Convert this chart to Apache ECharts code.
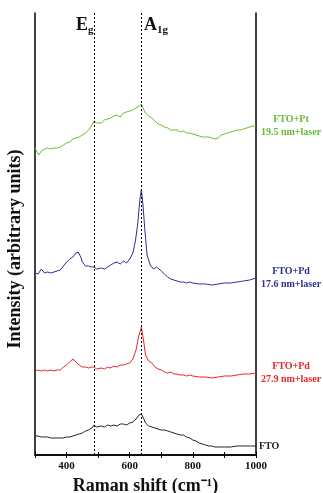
<!DOCTYPE html>
<html>
<head>
<meta charset="utf-8">
<script src="https://cdn.jsdelivr.net/npm/echarts@6/dist/echarts.min.js"></script>
<style>
html, body { margin: 0; padding: 0; background: #fff; }
#chart { width: 323px; height: 493px; }
</style>
</head>
<body>
<div id="chart"></div>
<script>
// Raman spectra, intensity in arbitrary units (offset stacked)
var fto = [[300,19],[310,19],[320,18],[330,18],[340,18],[350,17],[360,17],[370,17],[380,17],[390,17],[400,18],[410,18],[420,19],[430,20],[440,21],[450,22],[460,24],[470,25],[480,27],[487,30],[495,28],[500,27],[510,29],[520,28],[530,30],[540,29],[550,30],[560,29],[570,31],[580,31],[590,30],[600,32],[610,33],[620,36],[630,40],[637,41],[645,36],[650,32],[660,29],[670,28],[680,27],[690,26],[700,25],[710,25],[720,24],[730,23],[740,22],[750,21],[760,20],[770,20],[780,18],[790,17],[800,15],[810,14],[820,12],[830,11],[840,10],[850,9],[860,9],[870,8],[880,8],[890,8],[900,8],[920,8],[940,9],[960,9],[980,9],[1000,9]];

var pd279 = [[300,84],[310,85],[320,84],[330,85],[340,84],[350,85],[360,84],[370,85],[380,85],[390,88],[400,90],[410,93],[420,96],[430,93],[440,90],[450,88],[460,88],[470,87],[480,88],[487,88],[495,86],[500,85],[510,87],[520,86],[530,88],[540,87],[550,89],[560,88],[570,90],[580,90],[590,91],[600,92],[610,96],[620,105],[628,118],[637,128],[645,112],[650,100],[660,94],[670,92],[680,88],[690,86],[700,85],[710,83],[720,82],[730,83],[740,81],[750,81],[760,80],[770,80],[780,79],[790,80],[800,79],[820,78],[840,78],[860,77],[880,78],[900,79],[920,79],[940,80],[960,81],[980,81],[1000,82]];

var pd176 = [[300,182],[310,181],[320,186],[330,182],[340,183],[350,182],[360,183],[370,184],[380,185],[390,189],[400,193],[410,196],[420,198],[430,202],[437,203],[445,198],[450,193],[460,189],[470,189],[480,188],[487,188],[495,186],[500,185],[510,187],[520,186],[530,188],[540,190],[550,192],[560,193],[570,191],[580,194],[590,192],[600,196],[610,202],[618,214],[625,230],[632,255],[637,266],[642,250],[648,225],[655,200],[665,190],[675,186],[685,188],[690,190],[700,184],[710,181],[720,178],[730,176],[740,175],[750,174],[760,173],[770,173],[780,172],[790,173],[800,172],[820,171],[840,171],[860,170],[880,171],[900,172],[920,172],[940,173],[960,174],[980,175],[1000,177]];

var pt195 = [[300,307],[305,306],[312,300],[320,304],[330,306],[340,307],[350,306],[360,307],[370,307],[380,308],[390,310],[400,312],[410,313],[420,316],[430,317],[440,318],[450,320],[460,322],[470,325],[480,330],[487,334],[495,332],[500,333],[510,332],[520,335],[530,336],[540,337],[550,339],[560,340],[570,338],[580,342],[590,343],[600,344],[610,345],[620,347],[630,349],[637,351],[645,345],[650,342],[660,339],[670,337],[680,334],[690,331],[700,330],[710,328],[720,327],[730,325],[740,325],[750,325],[760,323],[770,324],[780,322],[790,322],[800,321],[810,320],[820,319],[830,318],[840,318],[850,318],[860,317],[870,316],[880,317],[890,320],[900,321],[910,322],[920,323],[930,324],[940,325],[950,325],[960,326],[970,327],[980,328],[990,329],[1000,329]];

var seriesNames = ['FTO', 'FTO+Pd\n27.9 nm+laser', 'FTO+Pd\n17.6 nm+laser', 'FTO+Pt\n19.5 nm+laser'];
var seriesColors = ['#222222', '#e8262a', '#2e2e96', '#66bb33'];
var peakLines = [487, 637];
var xTickLabels = [400, 600, 800, 1000];

var serif = 'Liberation Serif';
var chart = echarts.init(document.getElementById('chart'));

var allData = [fto, pd279, pd176, pt195];
var series = allData.map(function (d, i) {
  var single = seriesNames[i].indexOf('\n') < 0;
  var s = {
    name: seriesNames[i],
    type: 'line',
    data: d,
    showSymbol: false,
    symbol: 'none',
    lineStyle: { color: seriesColors[i], width: 1 },
    itemStyle: { color: seriesColors[i] },
    animation: false,
    endLabel: {
      show: true,
      formatter: seriesNames[i],
      color: seriesColors[i],
      fontFamily: serif,
      fontWeight: 'bold',
      fontSize: 10,
      lineHeight: 13,
      align: single ? 'left' : 'center',
      distance: single ? 3 : 35
    }
  };
  if (i === 0) {
    s.markLine = {
      silent: true,
      symbol: 'none',
      label: { show: false },
      lineStyle: { color: '#000', type: [2, 2], width: 1 },
      data: peakLines.map(function (v) { return { xAxis: v }; })
    };
  }
  return s;
});

var subRich = {
  m: { fontFamily: serif, fontWeight: 'bold', fontSize: 18, fill: '#111' },
  s: { fontFamily: serif, fontWeight: 'bold', fontSize: 11, fill: '#111', padding: [10, 0, 0, 0] }
};

chart.setOption({
  animation: false,
  grid: { left: 35, right: 67, top: 13, bottom: 38, outerBoundsMode: 'none' },
  xAxis: [{
    type: 'value',
    min: 300,
    max: 1000,
    interval: 100,
    name: 'Raman shift (cm\u207B\u00B9)',
    nameLocation: 'middle',
    nameGap: 19,
    nameTextStyle: { fontFamily: serif, fontWeight: 'bold', fontSize: 18, color: '#111' },
    axisLine: { lineStyle: { color: '#000', width: 1.5 } },
    axisTick: { inside: true, length: 3, lineStyle: { color: '#000', width: 1 } },
    axisLabel: {
      fontFamily: serif, fontWeight: 'bold', fontSize: 11, color: '#111', margin: 6,
      formatter: function (v) { return xTickLabels.indexOf(v) >= 0 ? String(v) : ''; }
    },
    splitLine: { show: false }
  }, {
    type: 'value',
    position: 'top',
    min: 300,
    max: 1000,
    interval: 100,
    axisLine: { lineStyle: { color: '#000', width: 1.5 } },
    axisTick: { inside: true, length: 3, lineStyle: { color: '#000', width: 1 } },
    axisLabel: { show: false },
    splitLine: { show: false }
  }],
  yAxis: [{
    type: 'value',
    min: 0,
    max: 442,
    axisLine: { show: true, lineStyle: { color: '#000', width: 1.5 } },
    axisTick: { show: false },
    axisLabel: { show: false },
    splitLine: { show: false }
  }, {
    type: 'value',
    position: 'right',
    min: 0,
    max: 442,
    axisLine: { show: true, lineStyle: { color: '#000', width: 1.5 } },
    axisTick: { show: false },
    axisLabel: { show: false },
    splitLine: { show: false }
  }],
  graphic: [{
    type: 'text',
    x: 15,
    y: 249,
    rotation: Math.PI / 2,
    style: {
      text: 'Intensity (arbitrary units)',
      fontFamily: serif,
      fontWeight: 'bold',
      fontSize: 18,
      fill: '#111',
      align: 'center',
      verticalAlign: 'middle'
    }
  }, {
    type: 'text',
    left: 76,
    top: 16,
    style: { text: '{m|E}{s|g}', rich: subRich }
  }, {
    type: 'text',
    left: 144,
    top: 16,
    style: { text: '{m|A}{s|1g}', rich: subRich }
  }],
  series: series
});
</script>
</body>
</html>
